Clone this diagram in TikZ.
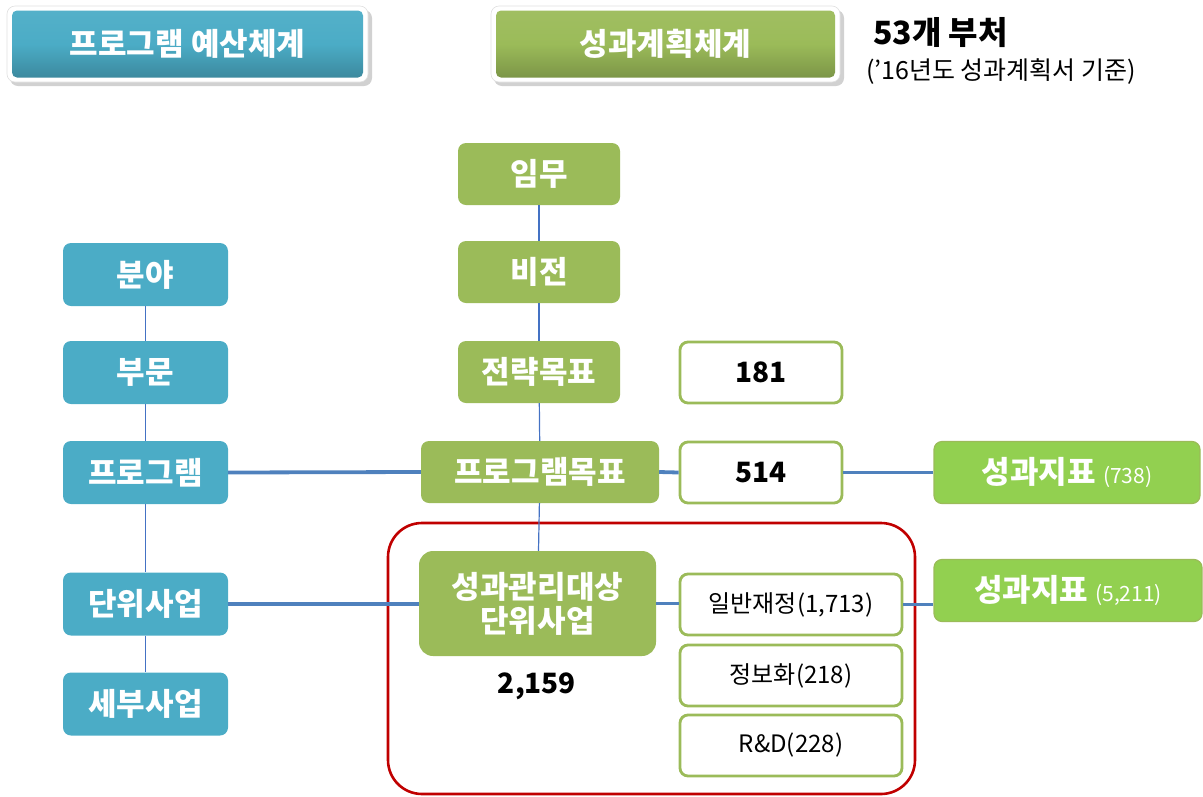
\documentclass[tikz,border=0pt]{standalone}
\usepackage{fontspec}
\setmainfont{Noto Sans CJK KR}
\usetikzlibrary{calc}
\definecolor{cblue}{HTML}{4BACC6}
\definecolor{cgreen}{HTML}{9BBB59}
\definecolor{cbright}{HTML}{92D050}
\definecolor{cred}{HTML}{C00000}
\definecolor{cline}{HTML}{4F81BD}
\definecolor{cthin}{HTML}{4472C4}
\newcommand{\fs}[1]{\fontsize{#1}{#1}\selectfont}
\tikzset{
  box/.style={rounded corners=8pt, draw=none, text=white, inner sep=0pt, align=center,
    font=\bfseries\fs{31}},
  bluebox/.style={box, fill=cblue, minimum width=165pt, minimum height=63pt},
  greenbox/.style={box, fill=cgreen, minimum width=162pt, minimum height=62pt},
  numbox/.style={rounded corners=8pt, draw=cgreen, line width=2.8pt, fill=white, text=black,
    inner sep=0pt, font=\bfseries\fs{28}, minimum width=162pt, minimum height=61pt},
  subbox/.style={numbox, minimum width=222pt, font=\fs{24}},
  indbox/.style={box, fill=cbright, draw=cgreen, line width=1.2pt, minimum height=62pt},
  thinline/.style={draw=cthin, line width=1.2pt},
  thickline/.style={draw=cline, line width=3.8pt},
  headfr/.style={rounded corners=8pt, fill=white, draw=black!12, line width=0.6pt},
  headsh/.style={rounded corners=8pt, fill=black!18},
  header/.style={rounded corners=5pt, inner sep=0pt, text=white, font=\bfseries\fs{31}},
}
\begin{document}
\begin{tikzpicture}[x=1pt,y=-1pt]
\useasboundingbox (0,0) rectangle (1203,796);
% headers
\fill[headsh] (10,10) rectangle (372,86);
\draw[headfr] (7,6) rectangle (368,82);
\node[header, top color=cblue!95!white, bottom color=cblue!80!black, middle color=cblue,
  minimum width=351pt, minimum height=67pt] (h1) at (187.5,44) {프로그램 예산체계};
\fill[headsh] (494,10) rectangle (844,86);
\draw[headfr] (491,6) rectangle (840,82);
\node[header, top color=cgreen!95!white, bottom color=cgreen!80!black, middle color=cgreen,
  minimum width=339pt, minimum height=67pt] (h2) at (665.5,44) {성과계획체계};
\node[anchor=west, inner sep=0pt, font=\bfseries\fs{32}] (t1) at (873,33) {53개 부처};
\node[anchor=west, inner sep=0pt, font=\fs{25}] (t2) at (866,72) {(’16년도 성과계획서 기준)};

% red group frame
\draw[cred, line width=2.6pt, rounded corners=34pt] (388,523) rectangle (915,794);

% blue column
\node[bluebox] (bunya) at (145.5,274.5) {분야};
\node[bluebox] (bumun) at (145.5,372.5) {부문};
\node[bluebox] (prog)  at (145.5,472.5) {프로그램};
\node[bluebox] (danwi) at (145.5,604) {단위사업};
\node[bluebox] (sebu)  at (145.5,704) {세부사업};

% green column
\node[greenbox] (immu)   at (539,174) {임무};
\node[greenbox] (vision) at (539,272) {비전};
\node[greenbox] (strat)  at (539,372) {전략목표};
\node[greenbox, minimum width=238pt] (pgoal) at (540,472) {프로그램목표};
\node[greenbox, minimum width=237pt, minimum height=105pt, rounded corners=14pt] (target) at (537.5,603.5) {성과관리대상\\[3pt]단위사업};
\node[inner sep=0pt, font=\bfseries\fs{28}] (cnt) at (537,686) {2,159};

% number boxes
\node[numbox] (n181) at (761,372.5) {181};
\node[numbox] (n514) at (761,472.5) {514};
\node[subbox] (gen)  at (791,604.5) {일반재정(1,713)};
\node[subbox] (info) at (791,675.5) {정보화(218)};
\node[subbox] (rnd)  at (791,745.5) {R\&D(228)};

% indicator boxes
\node[indbox, minimum width=266pt] (ind1) at (1067,472.5) {성과지표 {\mdseries\fs{21}(738)}};
\node[indbox, minimum width=268pt] (ind2) at (1068,590.5) {성과지표 {\mdseries\fs{21}(5,211)}};

% thin connectors
\draw[thinline] (bunya) -- (bumun);
\draw[thinline] (bumun) -- (prog);
\draw[thinline] (prog) -- (danwi);
\draw[thinline] (danwi) -- (sebu);
\draw[thinline] (immu) -- (vision);
\draw[thinline] (vision) -- (strat);
\draw[thinline] (strat) -- (pgoal);
\draw[thinline] (pgoal) -- (target);

% thick connectors
\draw[thickline] (prog.east) -- (pgoal.west);
\draw[thickline] (pgoal.east) -- (n514.west);
\draw[thickline] (n514.east) -- (ind1.west);
\draw[thickline] (danwi.east) -- (target.west |- danwi.east);
\draw[thickline] (target.east) -- (gen.west |- target.east);
\draw[thickline] (gen.east) -- (gen.east -| ind2.west);
\end{tikzpicture}
\end{document}
